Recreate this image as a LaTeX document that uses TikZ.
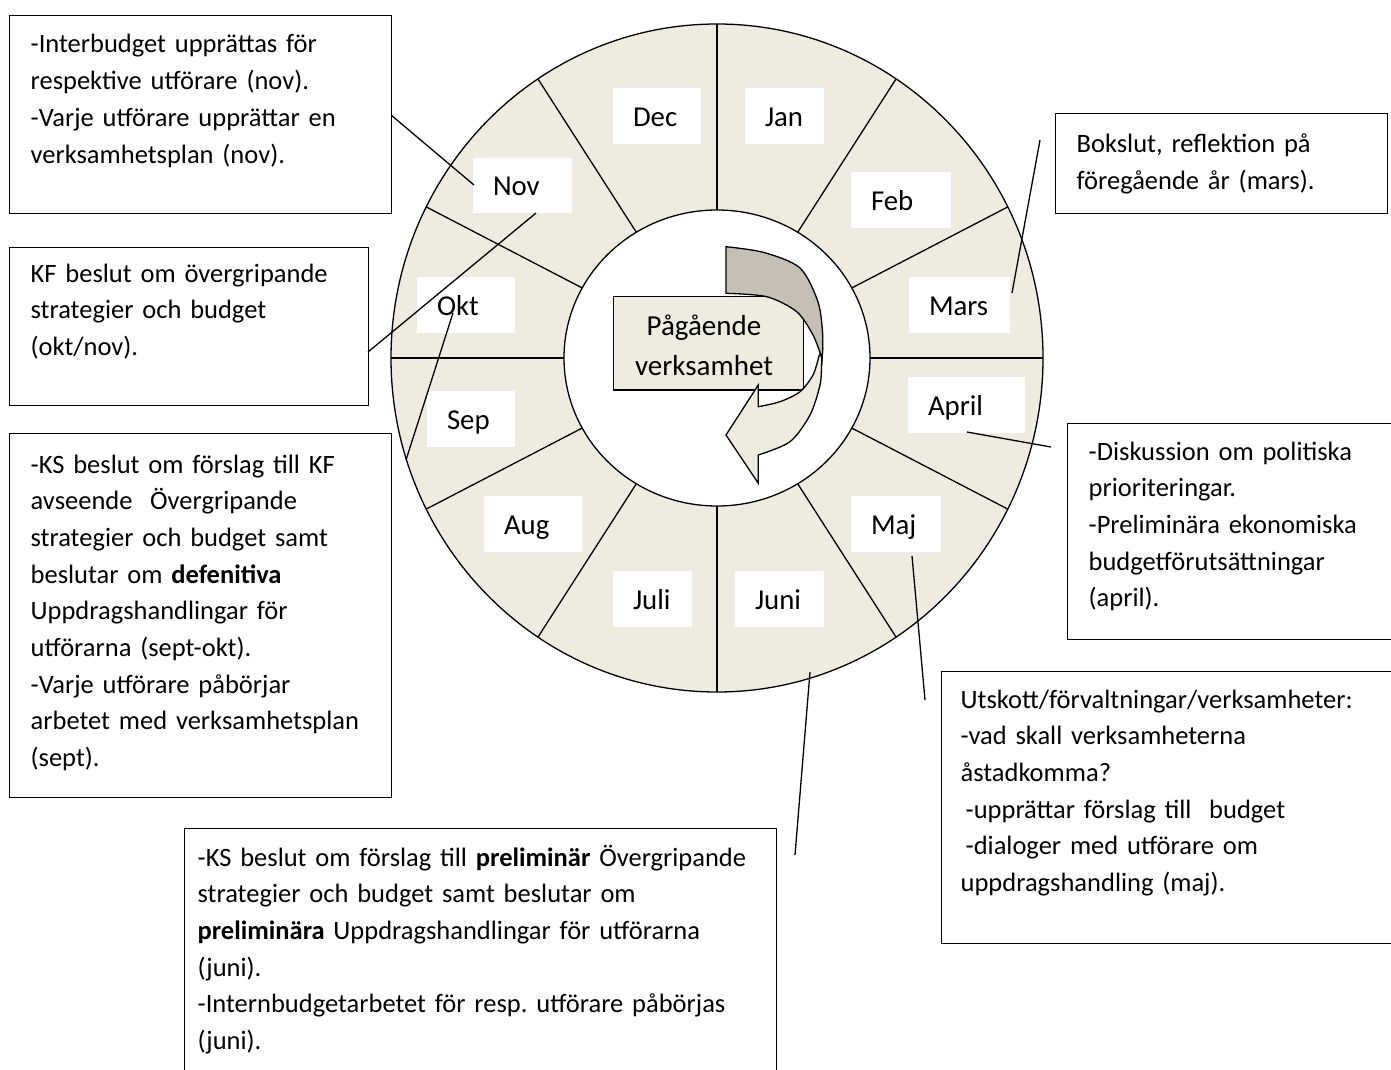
\documentclass[tikz,border=0pt]{standalone}
\usepackage{fontspec}
\setmainfont{Carlito}
\usetikzlibrary{calc}
\definecolor{ring}{HTML}{EEECE1}
\definecolor{back}{HTML}{C4C0B6}
\frenchspacing
\begin{document}
\begin{tikzpicture}[x=1pt,y=-1pt,line width=1.3pt,
  infobox/.style={draw=black,line width=1.3pt,inner sep=0pt,anchor=north west},
  boxtxt/.style={anchor=base west,inner sep=0pt,text width=640pt,align=left,font=\fontsize{26.5}{36.7}\selectfont},
  mbox/.style={fill=white,draw=none,inner sep=0pt,minimum height=56pt},
  mtxt/.style={anchor=base west,inner sep=0pt,font=\fontsize{28.8}{34}\selectfont},
  ctxt/.style={anchor=base,inner sep=0pt,font=\fontsize{29}{34}\selectfont},
  link/.style={draw=black,line width=1.3pt}]
\useasboundingbox (0,0) rectangle (1391,1070);
\fill[white] (0,0) rectangle (1391,1070);
% ring
\coordinate (c) at (717,358);
\draw[fill=ring] (c) ellipse [x radius=326pt, y radius=334pt];
\draw[fill=white] (c) ellipse [x radius=153pt, y radius=148pt];
\foreach \a in {0,30,...,330}{
  \pgfmathsetmacro{\ddx}{cos(\a)}
  \pgfmathsetmacro{\ddy}{0.9*sin(\a)}
  \pgfmathsetmacro{\tin}{100/sqrt((\ddx/1.53)*(\ddx/1.53)+(\ddy/1.48)*(\ddy/1.48))}
  \pgfmathsetmacro{\tout}{100/sqrt((\ddx/3.26)*(\ddx/3.26)+(\ddy/3.34)*(\ddy/3.34))}
  \draw ($(c)+({\tin*\ddx},{-\tin*\ddy})$) -- ($(c)+({\tout*\ddx},{-\tout*\ddy})$);
}
% month labels
\node[mbox,minimum width=79pt] (jan) at (784.5,116) {};
\node[mtxt] (janT) at ($(jan.west)+(20,10)$) {Jan};
\node[mbox,minimum width=100pt] (feb) at (901,200) {};
\node[mtxt] (febT) at ($(feb.west)+(20,10)$) {Feb};
\node[mbox,minimum width=101pt] (mar) at (959.5,305) {};
\node[mtxt] (marT) at ($(mar.west)+(20,10)$) {Mars};
\node[mbox,minimum width=117pt] (apr) at (966.5,405) {};
\node[mtxt] (aprT) at ($(apr.west)+(20,10)$) {April};
\node[mbox,minimum width=90pt] (maj) at (896,524) {};
\node[mtxt] (majT) at ($(maj.west)+(20,10)$) {Maj};
\node[mbox,minimum width=89pt] (jun) at (779.5,599) {};
\node[mtxt] (junT) at ($(jun.west)+(20,10)$) {Juni};
\node[mbox,minimum width=79pt] (jul) at (652.5,599) {};
\node[mtxt] (julT) at ($(jul.west)+(20,10)$) {Juli};
\node[mbox,minimum width=98pt] (aug) at (533,524) {};
\node[mtxt] (augT) at ($(aug.west)+(20,10)$) {Aug};
\node[mbox,minimum width=88pt] (sep) at (471,419) {};
\node[mtxt] (sepT) at ($(sep.west)+(20,10)$) {Sep};
\node[mbox,minimum width=98pt] (okt) at (466,305) {};
\node[mtxt] (oktT) at ($(okt.west)+(20,10)$) {Okt};
\node[mbox,minimum width=99pt,minimum height=55pt] (nov) at (522.5,185.5) {};
\node[mtxt] (novT) at ($(nov.west)+(20,10)$) {Nov};
\node[mbox,minimum width=88pt] (dec) at (657,116) {};
\node[mtxt] (decT) at ($(dec.west)+(20,10)$) {Dec};
% centre
\node[draw=black,fill=ring,inner sep=0pt,minimum width=190pt,minimum height=93.5pt] (mid) at (708.3,343.3) {};
\filldraw[fill=ring,line join=miter]
  plot[smooth] coordinates {(822.5,350) (821.7,363) (820,385) (810,415) (790,441.7) (758.3,455)}
  -- (758.3,483.3) -- (726,435) -- (758.3,385) -- (758.3,406.7)
  -- plot[smooth] coordinates {(758.3,406.7) (780,401.7) (800,391.7) (813,375) (819,356)} -- cycle;
\filldraw[fill=back]
  plot[smooth] coordinates {(726,246.7) (764,252.5) (800,268) (818,302) (822.7,335) (822,360)}
  -- plot[smooth] coordinates {(821.5,357) (813,335) (796.7,311.7) (766.7,296.7) (726,293.3)} -- cycle;
\node[ctxt] (midA) at (704,335) {Pågående};
\node[ctxt] (midB) at (704,375.7) {verksamhet};
% text boxes
\node[infobox,minimum width=382pt,minimum height=198pt] (b1) at (9,15) {};
\node[boxtxt] (t1) at (30,53) {-Interbudget upprättas för\\respektive utförare (nov).\\-Varje utförare upprättar en\\verksamhetsplan (nov).};
\node[infobox,minimum width=359pt,minimum height=158pt] (b2) at (9,247) {};
\node[boxtxt] (t2) at (30,282) {KF beslut om övergripande\\strategier och budget\\(okt/nov).};
\node[infobox,minimum width=382pt,minimum height=364pt] (b3) at (9,433) {};
\node[boxtxt] (t3) at (30,473) {-KS beslut om förslag till KF\\avseende\ \ Övergripande\\strategier och budget samt\\beslutar om \textbf{defenitiva}\\Uppdragshandlingar för\\utförarna (sept-okt).\\-Varje utförare påbörjar\\arbetet med verksamhetsplan\\(sept).};
\node[infobox,minimum width=592pt,minimum height=300pt] (b4) at (184,828) {};
\node[boxtxt] (t4) at (197,866) {-KS beslut om förslag till \textbf{preliminär} Övergripande\\strategier och budget samt beslutar om\\\textbf{preliminära} Uppdragshandlingar för utförarna\\(juni).\\-Internbudgetarbetet för resp. utförare påbörjas\\(juni).};
\node[infobox,minimum width=332pt,minimum height=100pt] (b5) at (1055,113) {};
\node[boxtxt] (t5) at (1076,153) {Bokslut, reflektion på\\föregående år (mars).};
\node[infobox,minimum width=340pt,minimum height=216pt] (b6) at (1067,423) {};
\node[boxtxt] (t6) at (1088,460) {-Diskussion om politiska\\prioriteringar.\\-Preliminära ekonomiska\\budgetförutsättningar\\(april).};
\node[infobox,minimum width=470pt,minimum height=272pt] (b7) at (941,671) {};
\node[boxtxt] (t7) at (960,708) {Utskott/förvaltningar/verksamheter:\\-vad skall verksamheterna\\åstadkomma?\\\hspace*{5pt}-upprättar förslag till\ \ budget\\\hspace*{5pt}-dialoger med utförare om\\uppdragshandling (maj).};
% connectors
\coordinate (l1a) at (391,115);  \coordinate (l1b) at (474,185);
\coordinate (l2a) at (368,352);  \coordinate (l2b) at (536,213);
\coordinate (l3a) at (406,460);  \coordinate (l3b) at (453,313);
\coordinate (l4a) at (1040,140); \coordinate (l4b) at (1012,293);
\coordinate (l5a) at (967,432);  \coordinate (l5b) at (1051,447);
\coordinate (l6a) at (912,556);  \coordinate (l6b) at (925,700);
\coordinate (l7a) at (810,672);  \coordinate (l7b) at (795,855);
\draw[link] (l1a) -- (l1b);
\draw[link] (l2a) -- (l2b);
\draw[link] (l3a) -- (l3b);
\draw[link] (l4a) -- (l4b);
\draw[link] (l5a) -- (l5b);
\draw[link] (l6a) -- (l6b);
\draw[link] (l7a) -- (l7b);
\end{tikzpicture}
\end{document}
